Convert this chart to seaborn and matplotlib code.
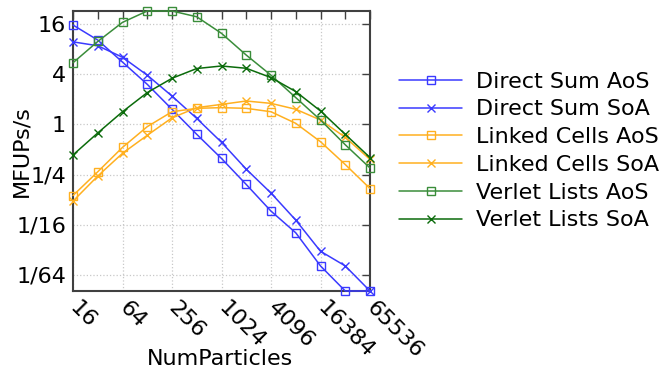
import numpy as np
import pandas as pd
import seaborn as sns
import matplotlib
matplotlib.use("Agg")
import matplotlib.pyplot as plt
from matplotlib.ticker import FixedLocator, FixedFormatter, NullFormatter

# ---------------- data ----------------
num_particles = [16, 32, 64, 128, 256, 512, 1024, 2048, 4096, 8192, 16384, 32768, 65536]

direct_sum_aos = [15.6, 10.3, 5.6, 3.03, 1.52, 0.76, 0.39, 0.19, 0.091, 0.05, 0.020, 0.01, 0.01]
direct_sum_soa = [9.8, 8.8, 6.4, 3.9, 2.19, 1.18, 0.61, 0.29, 0.15, 0.071, 0.030, 0.020, 0.01]
linked_cells_aos = [0.14, 0.27, 0.53, 0.94, 1.42, 1.56, 1.59, 1.56, 1.42, 1.03, 0.62, 0.33, 0.17]
linked_cells_soa = [0.12, 0.24, 0.45, 0.74, 1.2, 1.59, 1.74, 1.91, 1.79, 1.52, 1.13, 0.70, 0.38]
verlet_lists_aos = [5.5, 9.9, 16.8, 23.0, 23.0, 19.6, 12.4, 6.8, 3.9, 2.1, 1.13, 0.57, 0.30]
verlet_lists_soa = [0.43, 0.79, 1.42, 2.41, 3.58, 4.69, 5.03, 4.72, 3.65, 2.48, 1.45, 0.76, 0.40]

series_names = ["Direct Sum AoS", "Direct Sum SoA", "Linked Cells AoS",
                "Linked Cells SoA", "Verlet Lists AoS", "Verlet Lists SoA"]
series_values = [direct_sum_aos, direct_sum_soa, linked_cells_aos,
                 linked_cells_soa, verlet_lists_aos, verlet_lists_soa]

x_tick_values = [16, 64, 256, 1024, 4096, 16384, 65536]
x_tick_labels = ["16", "64", "256", "1024", "4096", "16384", "65536"]
y_tick_values = [1/64, 1/16, 1/4, 1, 4, 16]
y_tick_labels = ["1/64", "1/16", "1/4", "1", "4", "16"]

# ---------------- style ----------------
colors = ["#3a3aff", "#3a3aff", "#ffb020", "#ffb020", "#3a8d3a", "#0b6b0b"]
markers = ["s", "x", "s", "x", "s", "x"]

df = pd.DataFrame({
    "NumParticles": np.tile(num_particles, len(series_names)),
    "MFUPs/s": np.concatenate(series_values),
    "series": np.repeat(series_names, len(num_particles)),
})

sns.set_style("white")
plt.rcParams["font.family"] = ["DejaVu Sans"]
plt.rcParams["text.color"] = "black"
plt.rcParams["axes.labelcolor"] = "black"
plt.rcParams["xtick.color"] = "black"
plt.rcParams["ytick.color"] = "black"

FS = 16

fig = plt.figure(figsize=(6.69, 3.68), dpi=100)
ax = fig.add_axes([73/669, 1-291/368, (370-73)/669, (291-11)/368])

for name, col, mk in zip(series_names, colors, markers):
    sub = df[df["series"] == name]
    sns.lineplot(data=sub, x="NumParticles", y="MFUPs/s", ax=ax, color=col,
                 marker=mk, markersize=6, markerfacecolor="none",
                 markeredgecolor=col, markeredgewidth=1.0, linewidth=1.1,
                 label=name, clip_on=False, zorder=3)

ax.set_xscale("log", base=2)
ax.set_yscale("log", base=2)
ax.set_xlim(16, 65536)
ax.set_ylim(0.01, 23.0)

ax.xaxis.set_major_locator(FixedLocator(x_tick_values))
ax.xaxis.set_major_formatter(FixedFormatter(x_tick_labels))
ax.xaxis.set_minor_locator(FixedLocator([32, 128, 512, 2048, 8192, 32768]))
ax.xaxis.set_minor_formatter(NullFormatter())
ax.yaxis.set_major_locator(FixedLocator(y_tick_values))
ax.yaxis.set_major_formatter(FixedFormatter(y_tick_labels))
ax.yaxis.set_minor_locator(FixedLocator([]))

ax.grid(True, which="major", color="#c8c8c8", linestyle=":", linewidth=0.9)
ax.tick_params(which="both", direction="in", top=True, right=True,
               length=6, width=1.0, color="#404040", labelsize=FS,
               labelcolor="black")
ax.tick_params(axis="y", pad=5)
for lab in ax.get_xticklabels():
    lab.set_rotation(-45)
    lab.set_ha("left")
    lab.set_va("center")
    lab.set_rotation_mode("anchor")
ax.tick_params(axis="x", pad=10)

for sp in ax.spines.values():
    sp.set_color("#404040")
    sp.set_linewidth(1.5)

ax.set_xlabel("NumParticles", fontsize=FS)
ax.xaxis.set_label_coords((220-73)/297, (291-359)/280)
ax.xaxis.label.set_va("center")
ax.set_ylabel("MFUPs/s", fontsize=FS)
ax.yaxis.set_label_coords((21-73)/297, 0.5)
ax.yaxis.label.set_va("center")

leg = ax.legend(loc="center left", bbox_to_anchor=(399/669, 1-151/368),
                bbox_transform=fig.transFigure, frameon=False, fontsize=FS,
                handlelength=2.85, handletextpad=0.6, labelspacing=0.35,
                borderpad=0, borderaxespad=0)

fig.savefig("out.png", dpi=100)
